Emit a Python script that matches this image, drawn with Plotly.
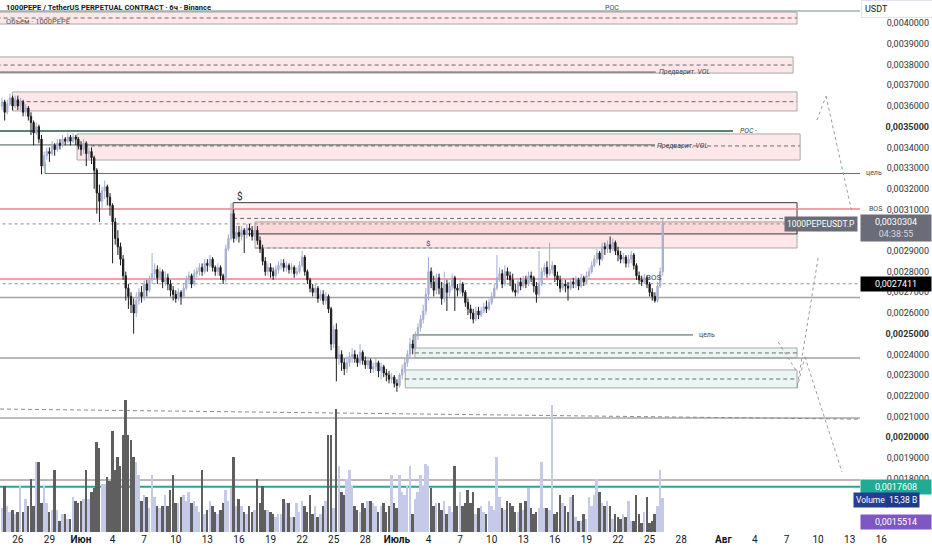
import numpy as np
import pandas as pd
import plotly.graph_objects as go

# 1000PEPEUSDT.P, 6h candles. Prices below are in units of 1e-3 (3.50 -> 0.0035000)
FIRST_OPEN = 3.60

closes = [
    [3.62, 3.57],                      # May 24 (12:00, 18:00)
    [3.61, 3.64, 3.60, 3.63],          # May 25
    [3.60, 3.62, 3.57, 3.59],          # May 26
    [3.55, 3.52, 3.47, 3.50],          # May 27
    [3.44, 3.31, 3.36, 3.38],          # May 28
    [3.37, 3.41, 3.39, 3.42],          # May 29
    [3.41, 3.44, 3.43, 3.45],          # May 30
    [3.43, 3.45, 3.44, 3.41],          # May 31
    [3.39, 3.42, 3.37, 3.38],          # Jun 1
    [3.35, 3.29, 3.18, 3.14],
    [3.19, 3.21, 3.16, 3.12],
    [3.04, 2.96, 2.92, 2.86],
    [2.78, 2.72, 2.68, 2.64],          # Jun 5
    [2.60, 2.66, 2.70, 2.68],
    [2.74, 2.71, 2.76, 2.79],
    [2.81, 2.77, 2.80, 2.75],
    [2.77, 2.74, 2.71, 2.69],
    [2.67, 2.70, 2.68, 2.72],          # Jun 10
    [2.76, 2.78, 2.74, 2.79],
    [2.80, 2.82, 2.80, 2.84],
    [2.83, 2.86, 2.82, 2.80],
    [2.82, 2.78, 2.76, 2.91],
    [2.96, 3.08, 2.96, 2.99],          # Jun 15
    [2.97, 3.00, 2.98, 3.01],
    [3.00, 2.97, 3.00, 2.95],
    [2.91, 2.85, 2.80, 2.82],
    [2.80, 2.78, 2.81, 2.83],
    [2.84, 2.82, 2.83, 2.81],          # Jun 20
    [2.82, 2.79, 2.80, 2.83],
    [2.87, 2.80, 2.76, 2.72],
    [2.70, 2.72, 2.67, 2.69],
    [2.66, 2.68, 2.62, 2.45],
    [2.52, 2.38, 2.40, 2.36],          # Jun 25
    [2.33, 2.36, 2.39, 2.40],
    [2.38, 2.36, 2.41, 2.37],
    [2.35, 2.37, 2.33, 2.34],
    [2.36, 2.32, 2.34, 2.31],
    [2.30, 2.28, 2.29, 2.26],          # Jun 30
    [2.25, 2.30, 2.33, 2.36],          # Jul 1
    [2.40, 2.45, 2.43, 2.49],
    [2.53, 2.57, 2.61, 2.69],
    [2.80, 2.75, 2.71, 2.77],
    [2.72, 2.67, 2.74, 2.70],          # Jul 5
    [2.73, 2.77, 2.72, 2.71],
    [2.74, 2.70, 2.65, 2.62],
    [2.60, 2.57, 2.61, 2.59],
    [2.61, 2.63, 2.62, 2.65],
    [2.68, 2.72, 2.77, 2.79],          # Jul 10
    [2.74, 2.80, 2.78, 2.76],
    [2.71, 2.70, 2.75, 2.73],
    [2.76, 2.74, 2.78, 2.77],
    [2.73, 2.69, 2.74, 2.80],
    [2.82, 2.79, 2.81, 2.83],          # Jul 15
    [2.78, 2.76, 2.72, 2.74],
    [2.73, 2.72, 2.75, 2.74],
    [2.76, 2.73, 2.77, 2.75],
    [2.78, 2.80, 2.83, 2.86],
    [2.89, 2.86, 2.92, 2.91],          # Jul 20
    [2.93, 2.91, 2.94, 2.90],
    [2.88, 2.86, 2.87, 2.84],
    [2.86, 2.88, 2.83, 2.78],
    [2.76, 2.75, 2.77, 2.74],
    [2.70, 2.68, 2.66, 2.73],          # Jul 25
    [2.80, 3.0304],                    # Jul 26 (00:00, 06:00)
]

highs = [
    [3.64, 3.63],
    [3.63, 3.66, 3.65, 3.65],
    [3.65, 3.64, 3.63, 3.61],
    [3.60, 3.57, 3.53, 3.52],
    [3.51, 3.46, 3.38, 3.40],
    [3.40, 3.43, 3.42, 3.44],
    [3.44, 3.46, 3.45, 3.47],
    [3.46, 3.47, 3.46, 3.45],
    [3.43, 3.44, 3.43, 3.40],
    [3.40, 3.36, 3.30, 3.22],
    [3.21, 3.24, 3.22, 3.18],
    [3.13, 3.06, 3.00, 2.94],
    [2.88, 2.80, 2.74, 2.70],
    [2.67, 2.70, 2.72, 2.73],
    [2.76, 2.76, 2.78, 2.89],
    [2.84, 2.83, 2.82, 2.81],
    [2.80, 2.79, 2.76, 2.73],
    [2.71, 2.72, 2.71, 2.74],
    [2.78, 2.80, 2.79, 2.81],
    [2.82, 2.84, 2.84, 2.86],
    [2.86, 2.88, 2.87, 2.83],
    [2.84, 2.83, 2.79, 2.93],
    [2.98, 3.13, 3.10, 3.02],
    [3.02, 3.02, 3.01, 3.03],
    [3.03, 3.02, 3.02, 3.02],
    [2.97, 2.93, 2.87, 2.84],
    [2.84, 2.82, 2.83, 2.85],
    [2.86, 2.86, 2.85, 2.84],
    [2.84, 2.83, 2.82, 2.85],
    [2.90, 2.88, 2.81, 2.77],
    [2.74, 2.74, 2.73, 2.71],
    [2.71, 2.70, 2.69, 2.63],
    [2.54, 2.55, 2.44, 2.42],
    [2.38, 2.39, 2.41, 2.43],
    [2.42, 2.40, 2.45, 2.42],
    [2.39, 2.39, 2.38, 2.36],
    [2.38, 2.37, 2.36, 2.35],
    [2.33, 2.32, 2.31, 2.30],
    [2.28, 2.31, 2.35, 2.38],
    [2.42, 2.48, 2.47, 2.51],
    [2.55, 2.59, 2.64, 2.72],
    [2.87, 2.82, 2.78, 2.79],
    [2.79, 2.75, 2.80, 2.76],
    [2.75, 2.79, 2.78, 2.74],
    [2.76, 2.75, 2.71, 2.67],
    [2.64, 2.62, 2.63, 2.63],
    [2.63, 2.65, 2.66, 2.67],
    [2.70, 2.74, 2.88, 2.82],
    [2.81, 2.83, 2.82, 2.80],
    [2.79, 2.74, 2.77, 2.77],
    [2.78, 2.78, 2.80, 2.80],
    [2.78, 2.75, 2.90, 2.82],
    [2.84, 2.85, 2.94, 2.85],
    [2.83, 2.80, 2.78, 2.76],
    [2.76, 2.75, 2.77, 2.77],
    [2.78, 2.77, 2.79, 2.78],
    [2.80, 2.82, 2.85, 2.88],
    [2.91, 2.90, 2.94, 2.94],
    [2.95, 2.97, 2.96, 2.95],
    [2.92, 2.90, 2.89, 2.88],
    [2.88, 2.90, 2.89, 2.84],
    [2.80, 2.78, 2.79, 2.78],
    [2.75, 2.72, 2.70, 2.75],
    [2.82, 3.06],
]

lows = [
    [3.58, 3.53],
    [3.56, 3.60, 3.58, 3.59],
    [3.58, 3.58, 3.55, 3.55],
    [3.53, 3.46, 3.41, 3.46],
    [3.42, 3.27, 3.30, 3.34],
    [3.33, 3.36, 3.36, 3.38],
    [3.39, 3.40, 3.41, 3.42],
    [3.41, 3.42, 3.41, 3.39],
    [3.36, 3.37, 3.31, 3.34],
    [3.32, 3.20, 3.08, 3.04],
    [3.10, 3.15, 3.12, 3.07],
    [2.84, 2.93, 2.88, 2.83],
    [2.76, 2.66, 2.62, 2.60],
    [2.50, 2.58, 2.64, 2.65],
    [2.66, 2.68, 2.70, 2.74],
    [2.76, 2.74, 2.76, 2.72],
    [2.73, 2.71, 2.68, 2.66],
    [2.65, 2.66, 2.64, 2.67],
    [2.71, 2.74, 2.72, 2.73],
    [2.77, 2.78, 2.78, 2.79],
    [2.80, 2.82, 2.80, 2.78],
    [2.78, 2.76, 2.74, 2.75],
    [2.90, 2.95, 2.94, 2.95],
    [2.94, 2.95, 2.89, 2.96],
    [2.97, 2.95, 2.95, 2.93],
    [2.89, 2.83, 2.78, 2.78],
    [2.77, 2.76, 2.77, 2.79],
    [2.81, 2.80, 2.80, 2.79],
    [2.79, 2.77, 2.78, 2.79],
    [2.82, 2.78, 2.74, 2.70],
    [2.68, 2.68, 2.65, 2.66],
    [2.64, 2.64, 2.60, 2.42],
    [2.43, 2.27, 2.35, 2.32],
    [2.30, 2.31, 2.34, 2.36],
    [2.36, 2.34, 2.35, 2.35],
    [2.33, 2.33, 2.31, 2.31],
    [2.32, 2.29, 2.28, 2.29],
    [2.27, 2.26, 2.26, 2.24],
    [2.22, 2.24, 2.28, 2.31],
    [2.34, 2.38, 2.40, 2.42],
    [2.47, 2.51, 2.55, 2.59],
    [2.66, 2.72, 2.68, 2.69],
    [2.69, 2.64, 2.65, 2.61],
    [2.68, 2.71, 2.61, 2.68],
    [2.69, 2.68, 2.63, 2.59],
    [2.57, 2.55, 2.56, 2.57],
    [2.58, 2.60, 2.60, 2.61],
    [2.64, 2.67, 2.71, 2.75],
    [2.72, 2.73, 2.76, 2.73],
    [2.70, 2.68, 2.69, 2.71],
    [2.72, 2.72, 2.73, 2.75],
    [2.70, 2.65, 2.68, 2.73],
    [2.78, 2.77, 2.78, 2.79],
    [2.75, 2.73, 2.70, 2.71],
    [2.70, 2.66, 2.71, 2.72],
    [2.72, 2.71, 2.72, 2.73],
    [2.74, 2.77, 2.79, 2.82],
    [2.84, 2.83, 2.85, 2.88],
    [2.89, 2.89, 2.90, 2.88],
    [2.85, 2.84, 2.84, 2.82],
    [2.82, 2.84, 2.81, 2.76],
    [2.74, 2.73, 2.74, 2.72],
    [2.68, 2.66, 2.65, 2.65],
    [2.72, 2.78],
]

# volume per candle, billions
volumes = [
    [11, 21],
    [12, 9, 10, 8],
    [9, 21, 9, 15],
    [12, 24, 12, 32],
    [32, 13, 21, 13],
    [9, 10, 28, 10],
    [5, 8, 8, 6],
    [6, 16, 14, 13],
    [14, 15, 28, 15],
    [18, 20, 41, 38],
    [22, 22, 25, 23],
    [46, 28, 34, 30],
    [44, 60, 44, 42],
    [34, 32, 26, 14],
    [17, 16, 11, 26],
    [16, 12, 11, 12],
    [17, 12, 19, 26],
    [13, 13, 16, 17],
    [14, 18, 13, 14],
    [12, 9, 28, 8],
    [10, 14, 12, 9],
    [8, 10, 13, 19],
    [14, 20, 34, 12],
    [15, 12, 9, 8],
    [12, 9, 10, 24],
    [13, 21, 10, 10],
    [9, 8, 7, 8],
    [8, 15, 13, 13],
    [7, 7, 13, 9],
    [14, 12, 9, 17],
    [8, 12, 7, 8],
    [12, 14, 44, 44],
    [11, 56, 30, 18],
    [17, 24, 28, 21],
    [12, 10, 9, 13],
    [11, 14, 14, 13],
    [12, 9, 12, 13],
    [9, 12, 26, 13],
    [11, 26, 18, 17],
    [21, 30, 8, 15],
    [18, 26, 21, 31],
    [30, 20, 12, 13],
    [13, 10, 14, 8],
    [12, 9, 30, 12],
    [18, 12, 13, 19],
    [13, 18, 8, 11],
    [12, 9, 8, 14],
    [12, 10, 34, 16],
    [11, 10, 14, 13],
    [12, 9, 9, 13],
    [10, 14, 20, 11],
    [8, 9, 11, 32],
    [11, 11, 10, 58],
    [8, 9, 17, 13],
    [12, 9, 16, 17],
    [7, 5, 5, 8],
    [6, 16, 12, 17],
    [24, 18, 13, 12],
    [14, 12, 6, 8],
    [7, 6, 8, 7],
    [14, 5, 5, 17],
    [8, 4, 9, 16],
    [4, 5, 8, 12],
    [28, 15.38],
]

# drawn zones: (start, end, top, bottom, dashed middle) in 1e-3 units
pink_zones = [
    ("2023-05-20", "2023-08-08 00:00", 4.054, 3.996, 4.025),
    ("2023-05-20", "2023-08-07 15:00", 3.837, 3.759, 3.798),
    ("2023-05-25 12:00", "2023-08-08 00:00", 3.668, 3.576, 3.621),
    ("2023-05-31 15:00", "2023-08-08 07:00", 3.465, 3.339, 3.407),
    ("2023-06-17 12:40", "2023-08-08 00:00", 3.040, 2.914, None),
]
ob_box = ("2023-06-15 10:40", "2023-08-08 00:00", 3.133, 2.982, 3.057)
green_zones = [
    ("2023-07-02 17:00", "2023-08-08 00:00", 2.431, 2.383, 2.407),
    ("2023-07-01 19:00", "2023-08-08 00:00", 2.325, 2.238, 2.281),
]

LEFT = "2023-05-20"
EDGE = "2023-08-13 23:30"   # where the price scale starts
# horizontal levels: (price, start, end, colour, width, dash)
levels = [
    (4.059, LEFT, EDGE, "#6f8f84", 1, "solid"),
    (3.764, LEFT, "2023-07-25 14:00", "#555555", 1, "solid"),
    (3.479, LEFT, "2023-08-01 22:00", "#1f5a47", 1.5, "solid"),
    (3.412, LEFT, "2023-07-25 12:00", "#4a5f58", 1, "solid"),
    (3.274, "2023-05-28 14:00", EDGE, "#4e7a6c", 1, "solid"),
    (3.102, LEFT, EDGE, "#e8848e", 1.5, "solid"),
    (3.0304, LEFT, "2023-08-11 10:00", "#8a8a8a", 1, "dot"),
    (2.914, "2023-06-17 12:40", "2023-07-14 16:00", "#8a8a8a", 1, "dot"),
    (2.764, LEFT, "2023-07-25 01:00", "#f3a0a8", 2, "solid"),
    (2.7411, LEFT, EDGE, "#8a8a8a", 1, "dot"),
    (2.675, LEFT, EDGE, "#a3a3a3", 1.5, "solid"),
    (2.494, "2023-07-02 13:00", "2023-07-29 03:00", "#3d5a50", 1, "solid"),
    (2.383, LEFT, EDGE, "#a3a3a3", 1.5, "solid"),
    (2.093, LEFT, EDGE, "#a8a8a8", 1.5, "solid"),
    (1.793, LEFT, EDGE, "#a3a3a3", 1.5, "solid"),
    (1.7608, LEFT, EDGE, "#26a69a", 2, "solid"),
]
# short vertical legs of the target lines: (time, from, to)
legs = [
    ("2023-05-28 14:00", 3.327, 3.274),
    ("2023-07-02 13:00", 2.494, 2.431),
]
# sloped dashed trend line
trend = [("2023-05-24 07:23", 2.136), (EDGE, 2.087)]
# dotted projection paths
paths = [
    [("2023-08-09 21:30", 3.532), ("2023-08-10 18:00", 3.648), ("2023-08-13 05:00", 3.088)],
    [("2023-08-10 00:00", 2.866), ("2023-08-08 00:00", 2.238),
     ("2023-08-08 18:00", 2.388), ("2023-08-12 06:30", 1.832)],
    [("2023-08-06 05:00", 2.460), ("2023-08-08 00:00", 2.315)],
]

price_ticks = [1.8, 1.9, 2.0, 2.1, 2.2, 2.3, 2.4, 2.5, 2.6, 2.7, 2.8,
               2.9, 3.1, 3.2, 3.3, 3.4, 3.5, 3.6, 3.7, 3.8, 3.9, 4.0]
bold_ticks = [2.0, 2.5, 3.5]
date_ticks = ["2023-05-26", "2023-05-29", "2023-06-01", "2023-06-04", "2023-06-07",
              "2023-06-10", "2023-06-13", "2023-06-16", "2023-06-19", "2023-06-22",
              "2023-06-25", "2023-06-28", "2023-07-01", "2023-07-04", "2023-07-07",
              "2023-07-10", "2023-07-13", "2023-07-16", "2023-07-19", "2023-07-22",
              "2023-07-25", "2023-07-28", "2023-08-01", "2023-08-04", "2023-08-07",
              "2023-08-10", "2023-08-13", "2023-08-16"]
date_labels = ["26", "29", "<b>Июн</b>", "4", "7", "10", "13", "16", "19", "22", "25",
               "28", "<b>Июль</b>", "4", "7", "10", "13", "16", "19", "22", "25", "28",
               "<b>Авг</b>", "4", "7", "10", "13", "16"]

S = 1e-3
flat = lambda rows: np.array([v for r in rows for v in r], dtype=float)
close = flat(closes)
high = flat(highs)
low = flat(lows)
vol = flat(volumes)
opn = np.concatenate([[FIRST_OPEN], close[:-1]])
high = np.maximum(high, np.maximum(opn, close))
low = np.minimum(low, np.minimum(opn, close))
times = pd.date_range("2023-05-24 12:00", periods=len(close), freq="6h")

UP_VOL, DOWN_VOL = "#c5cae9", "#5f5f5f"
vol_colors = [UP_VOL if c >= o else DOWN_VOL for o, c in zip(opn, close)]

DASH = "4px,3px"

fig = go.Figure()

fig.add_trace(go.Candlestick(
    x=times, open=opn * S, high=high * S, low=low * S, close=close * S,
    increasing=dict(line=dict(color="#a3acd2", width=1), fillcolor="#b8bac2"),
    decreasing=dict(line=dict(color="#1c1c1c", width=1), fillcolor="#141414"),
    whiskerwidth=0, showlegend=False, hoverinfo="skip",
))
fig.add_trace(go.Bar(
    x=times, y=vol, yaxis="y2", marker_color=vol_colors, marker_line_width=0,
    width=0.75 * 6 * 3600 * 1000, showlegend=False, hoverinfo="skip",
))

shapes = []
for x0, x1, top, bot, mid in pink_zones:
    shapes.append(dict(type="rect", x0=x0, x1=x1, y0=bot * S, y1=top * S, layer="below",
                       fillcolor="rgba(242,54,69,0.12)", line=dict(color="#a9a9a9", width=1)))
    if mid is not None:
        shapes.append(dict(type="line", x0=x0, x1=x1, y0=mid * S, y1=mid * S, layer="below",
                           line=dict(color="#6b6b6b", width=1, dash=DASH)))
x0, x1, top, bot, mid = ob_box
shapes.append(dict(type="rect", x0=x0, x1=x1, y0=bot * S, y1=top * S, layer="below",
                   fillcolor="rgba(242,54,69,0.08)", line=dict(color="#3a3a3a", width=1)))
shapes.append(dict(type="line", x0=x0, x1=x1, y0=mid * S, y1=mid * S, layer="below",
                   line=dict(color="#6b6b6b", width=1, dash=DASH)))
for x0, x1, top, bot, mid in green_zones:
    shapes.append(dict(type="rect", x0=x0, x1=x1, y0=bot * S, y1=top * S, layer="below",
                       fillcolor="rgba(8,153,129,0.09)", line=dict(color="#a9a9a9", width=1)))
    shapes.append(dict(type="line", x0=x0, x1=x1, y0=mid * S, y1=mid * S, layer="below",
                       line=dict(color="#6b6b6b", width=1, dash=DASH)))
for p, x0, x1, col, w, dash in levels:
    shapes.append(dict(type="line", x0=x0, x1=x1, y0=p * S, y1=p * S, layer="below",
                       line=dict(color=col, width=w, dash=dash)))
for t, a, b in legs:
    shapes.append(dict(type="line", x0=t, x1=t, y0=a * S, y1=b * S, layer="below",
                       line=dict(color="#4e7a6c", width=1)))
shapes.append(dict(type="line", x0=trend[0][0], x1=trend[1][0], y0=trend[0][1] * S,
                   y1=trend[1][1] * S, layer="below",
                   line=dict(color="#8c8c8c", width=1, dash=DASH)))
for path in paths:
    for (ta, pa), (tb, pb) in zip(path[:-1], path[1:]):
        shapes.append(dict(type="line", x0=ta, x1=tb, y0=pa * S, y1=pb * S, layer="below",
                           line=dict(color="#9a9a9a", width=1, dash="dot")))


def note(text, x, y, size=8, color="#434651", xanchor="left", **kw):
    return dict(text=text, x=x, y=y * S, xref="x", yref="y", showarrow=False,
                xanchor=xanchor, yanchor="middle", font=dict(size=size, color=color), **kw)


def scale_label(text, y, bg, x=1.0, xanchor="right", fg="#ffffff", yshift=0, size=9, width=None):
    return dict(text=text, x=x, y=y * S, xref="paper", yref="y", showarrow=False,
                xanchor=xanchor, yanchor="middle", bgcolor=bg, borderpad=2, yshift=yshift,
                width=width, font=dict(size=size, color=fg))


annotations = [
    dict(text="<b>1000PEPE / TetherUS PERPETUAL CONTRACT · 6ч · Binance</b>", x=0.004, y=0.985,
         xref="paper", yref="paper", xanchor="left", yanchor="middle", showarrow=False,
         font=dict(size=7.5, color="#131722")),
    dict(text="Объём · 1000PEPE", x=0.004, y=0.9605, xref="paper", yref="paper",
         xanchor="left", yanchor="middle", showarrow=False, font=dict(size=7.5, color="#555555")),
    note("POC", "2023-07-21 10:00", 4.073, size=7, xanchor="center"),
    note("<i>Предварит. VOL</i>", "2023-07-25 16:00", 3.764, size=7),
    note("<i>Предварит. VOL</i>", "2023-07-25 13:00", 3.407, size=7),
    note("<i>POC -</i>", "2023-08-02 10:00", 3.479, size=7),
    note("цель", "2023-08-14 08:00", 3.274, size=7),
    note("BOS", "2023-08-14 16:00", 3.102, size=7),
    note("$", "2023-06-16 03:00", 3.165, size=10, color="#222222", xanchor="center"),
    note("$", "2023-07-03 23:00", 2.937, size=8, xanchor="center"),
    note("BOS", "2023-07-25 09:00", 2.773, size=8, xanchor="center"),
    note("цель", "2023-07-29 12:00", 2.494, size=7),
    dict(text="USDT", x=861 / 932, y=4.068 * S, xref="paper", yref="y", xanchor="left",
         yanchor="middle", showarrow=False, bgcolor="#ffffff", bordercolor="#e0e3eb",
         borderwidth=1, borderpad=3, width=64, align="left", font=dict(size=9, color="#131722")),
    scale_label("1000PEPEUSDT.P", 3.0304, "#6a6d78", x=858 / 932, size=8.5),
    scale_label("0,0030304<br><span style='color:#d5d7de'>04:38:55</span>", 3.0304,
                "#6a6d78", yshift=-4, width=66),
    scale_label("0,0027411", 2.7411, "#000000", width=66),
    scale_label("0,0017608", 1.7608, "#22ab94", width=66),
    scale_label("Volume", 1.697, "#233f94", x=888 / 932, size=8.5),
    scale_label("15,38 B", 1.697, "#1e3a8a", x=920 / 932, size=8.5),
    scale_label("0,0015514", 1.5514, "#7e57c2", yshift=8, width=66),
]

fig.update_layout(
    width=932, height=550,
    margin=dict(l=0, r=0, t=0, b=18),
    paper_bgcolor="#ffffff", plot_bgcolor="#ffffff",
    font=dict(family="Roboto, Arial, sans-serif", color="#131722"),
    showlegend=False,
    bargap=0,
    shapes=shapes,
    annotations=annotations,
    xaxis=dict(
        type="date", range=["2023-05-24 07:23", "2023-08-20 19:36"],
        tickvals=date_ticks, ticktext=date_labels, ticks="",
        showgrid=False, zeroline=False, showline=False,
        tickfont=dict(size=10, color="#131722"),
        rangeslider=dict(visible=False),
    ),
    yaxis=dict(
        side="right", ticklabelposition="inside", range=[1.542 * S, 4.1121 * S],
        tickvals=[t * S for t in price_ticks],
        ticktext=[(f"<b>{t / 1000:.7f}</b>" if t in bold_ticks else f"{t / 1000:.7f}").replace(".", ",")
                  for t in price_ticks],
        ticks="", showgrid=False, zeroline=False, showline=False,
        tickfont=dict(size=9, color="#333333"),
    ),
    yaxis2=dict(overlaying="y", range=[0, 242], visible=False),
)

# page body has a default 8px margin; drop it so the figure sits at the window corner
fig.write_html("out.html", config={"displayModeBar": False},
               post_script="document.body.style.margin='0';")
